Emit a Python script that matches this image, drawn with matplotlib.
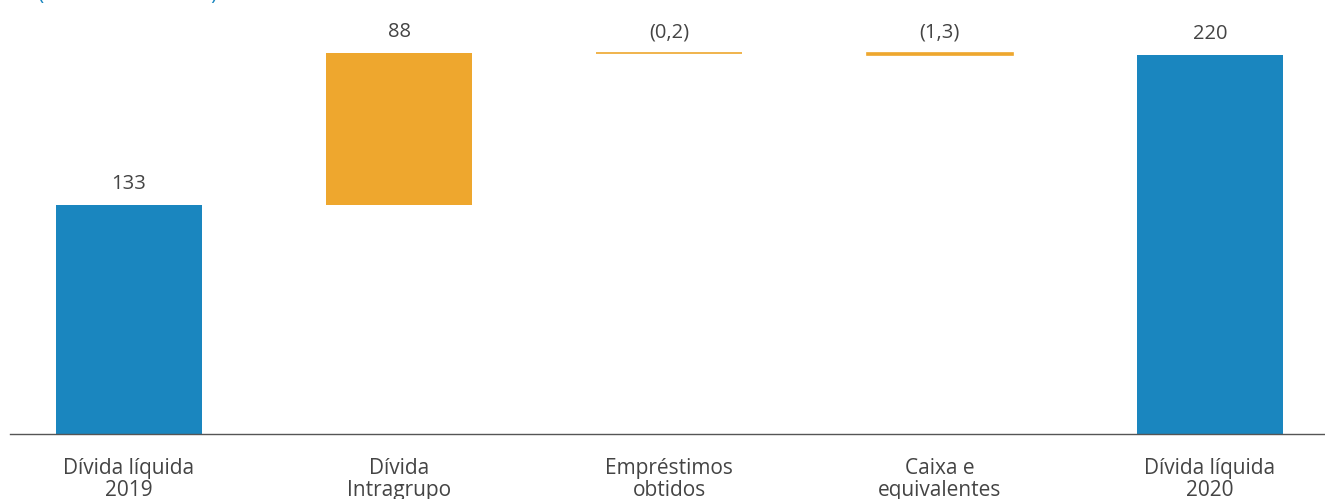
import numpy as np
import matplotlib.pyplot as plt

categories = ['Dívida líquida\n2019', 'Dívida\nIntragrupo', 'Empréstimos\nobtidos',
              'Caixa e\nequivalentes', 'Dívida líquida\n2020']
values = [133, 88, -0.2, -1.3, 220]
labels = ['133', '88', '(0,2)', '(1,3)', '220']
is_total = [True, False, False, False, True]

blue = '#1a86bf'
orange = '#eea72e'
grey = '#444444'

plt.rcParams['font.family'] = ['Open Sans', 'DejaVu Sans']

fig = plt.figure(figsize=(13.25, 4.99), dpi=100)
ax = fig.add_axes([10 / 1325, 65 / 499, 1 - 10 / 1325, 1 - 65 / 499])

x = np.arange(len(categories))
running = 0
tops = []
for i, (v, tot) in enumerate(zip(values, is_total)):
    if tot:
        ax.bar(x[i], v, width=0.54, color=blue)
        running = v
        tops.append(v)
    else:
        start = running
        running = running + v
        bottom = min(start, running)
        if abs(v) < 5:
            ax.bar(x[i], abs(v), bottom=bottom, width=0.54, color=orange,
                   edgecolor=orange, linewidth=1.2)
        else:
            ax.bar(x[i], abs(v), bottom=bottom, width=0.54, color=orange)
        tops.append(max(start, running))

for i, t in enumerate(tops):
    ax.text(x[i], t + 6, labels[i], ha='center', va='bottom', fontsize=14.5, color=grey)

ax.set_xlim(-0.44, 4.426)
ax.set_ylim(0, 251.6)
ax.set_xticks(x)
ax.set_xticklabels(categories, fontsize=15, color=grey, linespacing=1.1)
ax.tick_params(axis='x', length=0, pad=17)
ax.set_yticks([])
for s in ['top', 'right', 'left']:
    ax.spines[s].set_visible(False)
ax.spines['bottom'].set_color('#555555')
ax.spines['bottom'].set_linewidth(1.0)

fig.text(38 / 1325, 1.012, '(Milhões de euros)', color=blue, fontsize=15, ha='left', va='center')

fig.savefig('out.png', dpi=100)
